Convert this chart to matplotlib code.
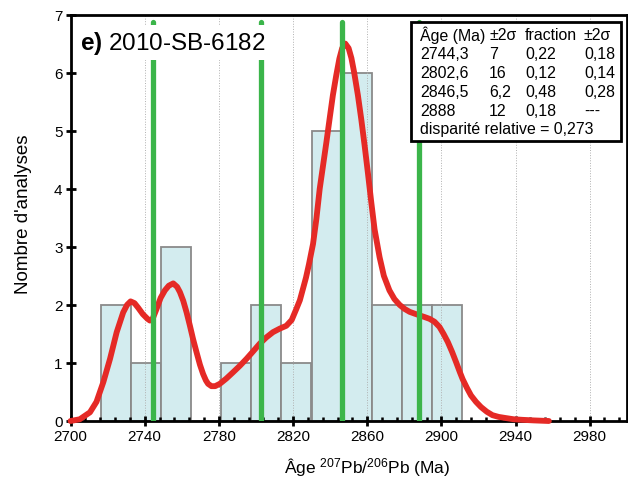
import matplotlib
matplotlib.use('Agg')
import matplotlib.pyplot as plt
from matplotlib.patches import Rectangle

plt.rcParams['font.family'] = ['Liberation Sans', 'DejaVu Sans']
plt.rcParams['mathtext.fontset'] = 'custom'
plt.rcParams['mathtext.rm'] = 'Liberation Sans'
plt.rcParams['mathtext.bf'] = 'Liberation Sans:bold'
plt.rcParams['mathtext.default'] = 'regular'

############### DATA ###############
# histogram of 207Pb/206Pb ages (bin left edges, Ma)
bin_lefts = [2716.3, 2732.5, 2748.8, 2765.0, 2781.3, 2797.5,
             2813.7, 2830.0, 2846.2, 2862.4, 2878.7, 2894.9]
bin_width = 16.24
counts = [2, 1, 3, 0, 1, 2, 1, 5, 6, 2, 2, 2]

# probability density curve (scaled to counts)
curve_age = [2700, 2705, 2710.5, 2714, 2717.7, 2721.3, 2724.9, 2728.4, 2730.5,
             2732.4, 2734.5, 2736.5, 2739, 2741.5, 2742.8, 2744.3, 2746.4,
             2748.6, 2750.9, 2753, 2755.4, 2757.5, 2759, 2760.8, 2762.6,
             2764.4, 2766.1, 2768, 2769.8, 2771.5, 2773, 2774.2, 2776, 2778,
             2780.5, 2784, 2787.7, 2791.3, 2794.9, 2798.5, 2802, 2805.6, 2809.2,
             2812.8, 2816.4, 2819.3, 2821.8, 2823.7, 2825.4, 2827, 2828.6,
             2830.8, 2832.6, 2834.4, 2836.2, 2838, 2839.8, 2841.5, 2843.3,
             2845, 2846.5, 2848.2, 2850, 2851.5, 2853, 2855, 2856.8, 2858.6,
             2860.4, 2862.2, 2864, 2866.7, 2869, 2872, 2874.7, 2877.5, 2880.2,
             2882.9, 2885.5, 2888.2, 2891, 2893.6, 2896.3, 2899, 2901.2,
             2903.5, 2905.8, 2908, 2910, 2911.5, 2913.8, 2916, 2918.7, 2921.4,
             2924.5, 2927.6, 2931, 2934.9, 2939, 2943.8, 2950, 2958]
curve_val = [0.0, 0.03, 0.15, 0.33, 0.67, 1.07, 1.53, 1.87, 2.0,
             2.06, 2.03, 1.95, 1.84, 1.76, 1.73, 1.76, 1.93,
             2.12, 2.25, 2.33, 2.37, 2.31, 2.22, 2.07, 1.87,
             1.64, 1.41, 1.18, 0.97, 0.81, 0.7, 0.64, 0.6, 0.6,
             0.64, 0.73, 0.84, 0.95, 1.07, 1.2, 1.33, 1.44, 1.53,
             1.59, 1.64, 1.74, 1.93, 2.08, 2.28, 2.47, 2.7,
             3.05, 3.48, 4.0, 4.4, 4.8, 5.22, 5.61, 5.95,
             6.24, 6.42, 6.5, 6.42, 6.25, 6.0, 5.61, 5.2, 4.75,
             4.27, 3.77, 3.3, 2.82, 2.5, 2.25, 2.1, 2.0, 1.93,
             1.88, 1.85, 1.82, 1.79, 1.76, 1.71, 1.62, 1.5,
             1.36, 1.19, 1.01, 0.84, 0.72, 0.57, 0.44, 0.33, 0.24,
             0.16, 0.10, 0.07, 0.05, 0.03, 0.02, 0.01, 0.0]

# unmixing results
peak_ages = [2744.3, 2802.6, 2846.5, 2888]
peak_err = ['7', '16', '6,2', '12']
peak_frac = ['0,22', '0,12', '0,48', '0,18']
peak_frac_err = ['0,18', '0,14', '0,28', '---']
disparity = '0,273'

x_major = list(range(2700, 2981, 40))
x_minor = list(range(2700, 3001, 8))

############### PLOT ###############
fig = plt.figure(figsize=(6.28, 4.85), dpi=100)
ax = fig.add_axes([0.1123, 0.1299, 0.8857, 0.838])

ax.bar(bin_lefts, counts, width=bin_width, align='edge', color='#d3ecef',
       edgecolor='#8a8a8a', linewidth=1.3, zorder=1)
ax.plot(curve_age, curve_val, color='#e52a26', lw=4.2, solid_capstyle='round',
        solid_joinstyle='round', zorder=3, clip_on=False)
ax.vlines(peak_ages, 0, 6.88, color='#3bb54a', lw=3.8, capstyle='round', zorder=4)

ax.set_xlim(2700, 3000)
ax.set_ylim(0, 7)
ax.set_xticks(x_major)
ax.set_xticks([m for m in x_minor if m not in x_major], minor=True)
ax.set_yticks(range(0, 8))
ax.grid(axis='x', which='major', color='#b0b0b0', ls=':', lw=0.7)

for s in ax.spines.values():
    s.set_linewidth(2)
ax.tick_params(axis='x', which='major', direction='inout', length=7, width=2,
               labelsize=11, pad=2)
ax.tick_params(axis='x', which='minor', direction='in', length=3, width=1.8)
ax.tick_params(axis='y', which='major', direction='inout', length=7.5, width=2,
               labelsize=11, pad=2)

ax.set_ylabel("Nombre d'analyses", fontsize=13.5)
ax.yaxis.set_label_coords(-0.069, 0.51)
ax.set_xlabel(r'Âge $^{207}$Pb/$^{206}$Pb (Ma)', fontsize=12.5)
ax.xaxis.set_label_coords(0.534, -0.085)

# sample name
fig.text(80 / 628, 1 - 50 / 485, r'$\mathbf{e)}$ 2010-SB-6182', fontsize=17.5,
         va='baseline', ha='left',
         bbox=dict(facecolor='white', edgecolor='none', pad=3))

# results box
fig.add_artist(Rectangle((411 / 628, 1 - 141.7 / 485), 210 / 628, 119 / 485,
                         transform=fig.transFigure, facecolor='white',
                         edgecolor='black', lw=2, zorder=2))
cols = [420 / 628, 489 / 628, 525 / 628, 584 / 628]
rows = [35, 54.5, 73.5, 92.5, 111.5, 130]
head = ['Âge (Ma)', '±2σ', 'fraction', '±2σ']
for c, h in zip(cols, head):
    fig.text(c, 1 - rows[0] / 485, h, fontsize=11.4, va='center', zorder=5)
for i in range(len(peak_ages)):
    age_txt = f'{peak_ages[i]:g}'.replace('.', ',')
    vals = [age_txt, peak_err[i], peak_frac[i], peak_frac_err[i]]
    for c, v in zip(cols, vals):
        fig.text(c, 1 - rows[i + 1] / 485, v, fontsize=11.4, va='center', zorder=5)
fig.text(cols[0], 1 - rows[5] / 485, 'disparité relative = ' + disparity,
         fontsize=11.4, va='center', zorder=5)

fig.savefig('out.png', dpi=100)
